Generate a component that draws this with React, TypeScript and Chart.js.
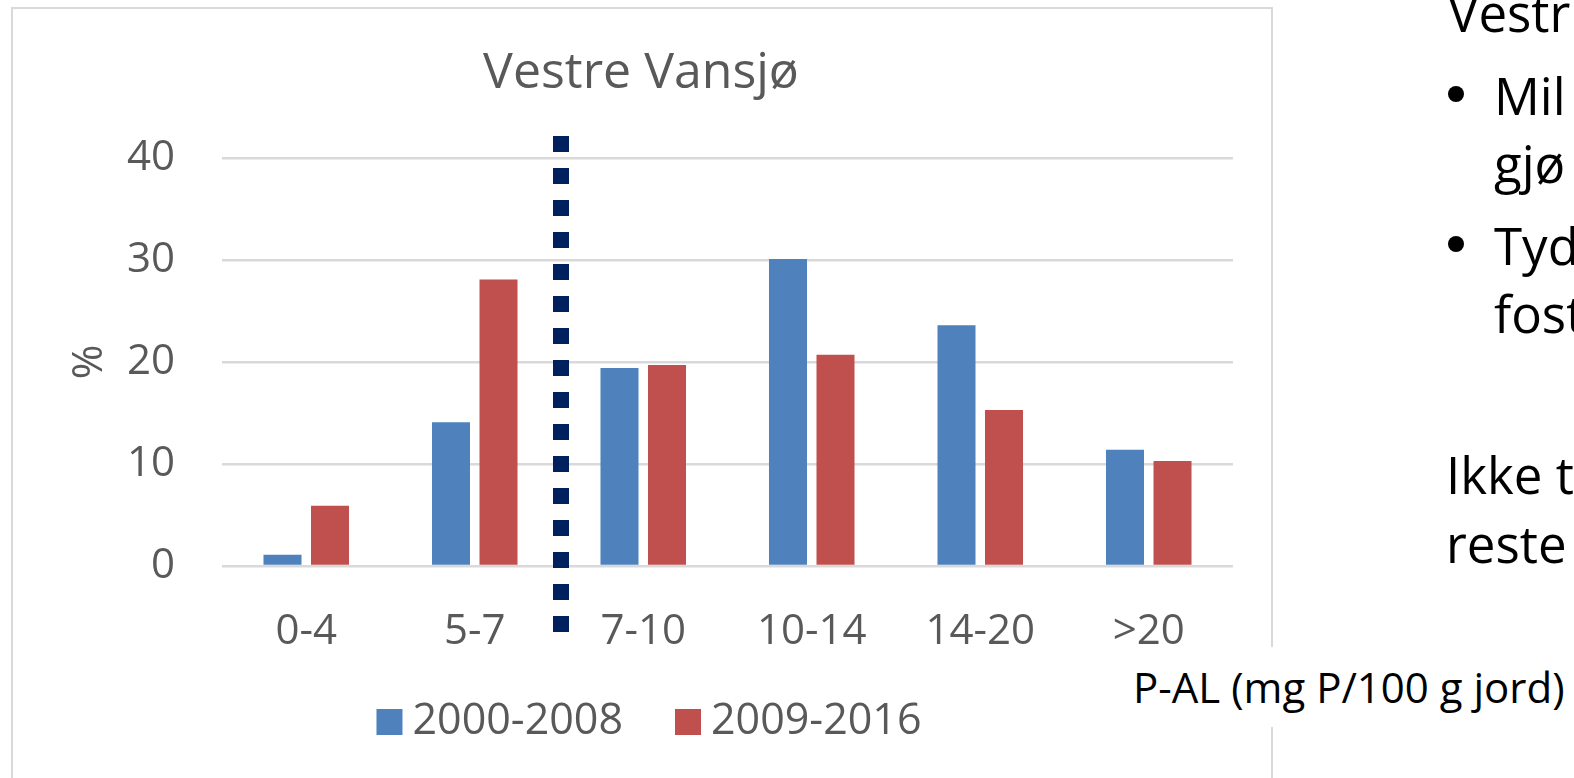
import React, { useEffect, useRef } from "react";
import { Chart, registerables } from "chart.js";

Chart.register(...registerables);

// ---- data ----
const categories = ["0-4", "5-7", "7-10", "10-14", "14-20", ">20"];
const series2000_2008 = [1.1, 14.1, 19.4, 30.1, 23.6, 11.4];
const series2009_2016 = [5.9, 28.1, 19.7, 20.7, 15.3, 10.3];
const seriesLabels = ["2000-2008", "2009-2016"];
const seriesColors = ["#4F81BD", "#C0504D"];
const yTickValues = [0, 10, 20, 30, 40];
const chartTitle = "Vestre Vansjø";
const yAxisTitle = "%";
const xAxisTitle = "P-AL (mg P/100 g jord)";
const thresholdBetween = 1.5; // between "5-7" and "7-10"

const sideHeading = "Vestr";
const bullet1 = ["Mil", "gjø"];
const bullet2 = ["Tyd", "fost"];
const sideNote = ["Ikke t", "reste"];

const FONT = "'Open Sans', 'Noto Sans', sans-serif";
const GREY = "#595959";

const thresholdLinePlugin = {
  id: "thresholdLine",
  afterDraw(chart: any) {
    const { ctx, chartArea, scales } = chart;
    const px = scales.x.getPixelForValue(thresholdBetween);
    ctx.save();
    ctx.strokeStyle = "#002060";
    ctx.lineWidth = 16;
    ctx.lineCap = "butt";
    ctx.setLineDash([16, 16]);
    ctx.beginPath();
    ctx.moveTo(px + 2, chartArea.top - 22);
    ctx.lineTo(px + 2, chartArea.bottom + 66);
    ctx.stroke();
    ctx.restore();
  },
};

const customLegendPlugin = {
  id: "customLegend",
  afterDraw(chart: any) {
    const { ctx, chartArea } = chart;
    const ds = chart.data.datasets;
    ctx.save();
    ctx.font = `43px ${FONT}`;
    const box = 26;
    const gapText = 10;
    const gapItem = 52;
    const widths = ds.map((d: any) => ctx.measureText(d.label).width);
    let total = 0;
    widths.forEach((w: number, i: number) => {
      total += box + gapText + w + (i < widths.length - 1 ? gapItem : 0);
    });
    let x = chart.width / 2 + 8 - total / 2;
    const cy = chartArea.bottom + 156;
    ds.forEach((d: any, i: number) => {
      ctx.fillStyle = d.backgroundColor;
      ctx.fillRect(x, cy - box / 2, box, box);
      ctx.fillStyle = GREY;
      ctx.textBaseline = "middle";
      ctx.textAlign = "left";
      ctx.fillText(d.label, x + box + gapText, cy);
      x += box + gapText + widths[i] + gapItem;
    });
    ctx.restore();
  },
};

function ChartBox() {
  const ref = useRef<HTMLCanvasElement | null>(null);
  useEffect(() => {
    if (!ref.current) return;
    const chart = new Chart(ref.current, {
      type: "bar",
      data: {
        labels: categories,
        datasets: [
          {
            label: seriesLabels[0],
            data: series2000_2008,
            backgroundColor: seriesColors[0],
            borderWidth: 0,
            categoryPercentage: 0.564,
            barPercentage: 0.8,
          },
          {
            label: seriesLabels[1],
            data: series2009_2016,
            backgroundColor: seriesColors[1],
            borderWidth: 0,
            categoryPercentage: 0.564,
            barPercentage: 0.8,
          },
        ],
      },
      options: {
        responsive: false,
        animation: false,
        devicePixelRatio: 1,
        layout: { padding: { left: 39, right: 39, top: 0, bottom: 102 } },
        plugins: {
          legend: { display: false },
          tooltip: { enabled: false },
          title: {
            display: true,
            text: chartTitle,
            color: GREY,
            font: { family: FONT, size: 50, weight: "normal" },
            padding: { top: 35.5, bottom: 54.5 },
          },
        },
        scales: {
          x: {
            grid: { display: false, drawTicks: false },
            border: { display: false },
            ticks: {
              color: GREY,
              font: { family: FONT, size: 42 },
              padding: 41,
              maxRotation: 0,
              autoSkip: false,
            },
            afterFit: (s: any) => {
              s.height = 110;
            },
          },
          y: {
            min: 0,
            max: 40,
            afterBuildTicks: (s: any) => {
              s.ticks = yTickValues.map((v) => ({ value: v }));
            },
            ticks: {
              color: GREY,
              font: { family: FONT, size: 42 },
              padding: 47,
            },
            grid: { color: "#d9d9d9", lineWidth: 2.5, drawTicks: false },
            border: { display: false },
            title: {
              display: true,
              text: yAxisTitle,
              color: GREY,
              font: { family: FONT, size: 42 },
              padding: { top: 16, bottom: 0 },
            },
            afterFit: (s: any) => {
              s.width = 173;
            },
          },
        },
      },
      plugins: [thresholdLinePlugin, customLegendPlugin],
    } as any);
    return () => chart.destroy();
  }, []);
  return (
    <canvas
      ref={ref}
      width={1262}
      height={770}
      style={{ position: "absolute", left: 10, top: 8, width: 1262, height: 770, display: "block" }}
    />
  );
}

const textStyle = (fs: number, baseline: number, left: number): React.CSSProperties => ({
  position: "absolute",
  left,
  top: baseline - 0.888 * fs,
  fontFamily: FONT,
  fontSize: fs,
  lineHeight: 1,
  whiteSpace: "nowrap",
  color: "#000",
});

export default function App() {
  return (
    <div
      style={{
        position: "fixed",
        left: 0,
        top: 0,
        width: 1574,
        height: 778,
        overflow: "hidden",
        background: "#fff",
      }}
    >
      <div
        style={{
          position: "absolute",
          left: 11,
          top: 7,
          width: 1258,
          height: 800,
          border: "2px solid #d9d9d9",
        }}
      />
      <ChartBox />
      <div style={textStyle(51, 32, 1448)}>{sideHeading}</div>
      <div style={{ position: "absolute", left: 1448, top: 86, width: 16, height: 16, borderRadius: 8, background: "#000" }} />
      <div style={textStyle(51, 115, 1494)}>{bullet1[0]}</div>
      <div style={textStyle(51, 183, 1494)}>{bullet1[1]}</div>
      <div style={{ position: "absolute", left: 1448, top: 236, width: 16, height: 16, borderRadius: 8, background: "#000" }} />
      <div style={textStyle(51, 265, 1494)}>{bullet2[0]}</div>
      <div style={textStyle(51, 333, 1494)}>{bullet2[1]}</div>
      <div style={textStyle(51, 494, 1446)}>{sideNote[0]}</div>
      <div style={textStyle(51, 563, 1446)}>{sideNote[1]}</div>
      <div
        style={{
          position: "absolute",
          left: 1125,
          top: 647,
          width: 449,
          height: 80,
          background: "#fff",
        }}
      />
      <div style={textStyle(42, 703, 1133)}>{xAxisTitle}</div>
    </div>
  );
}
